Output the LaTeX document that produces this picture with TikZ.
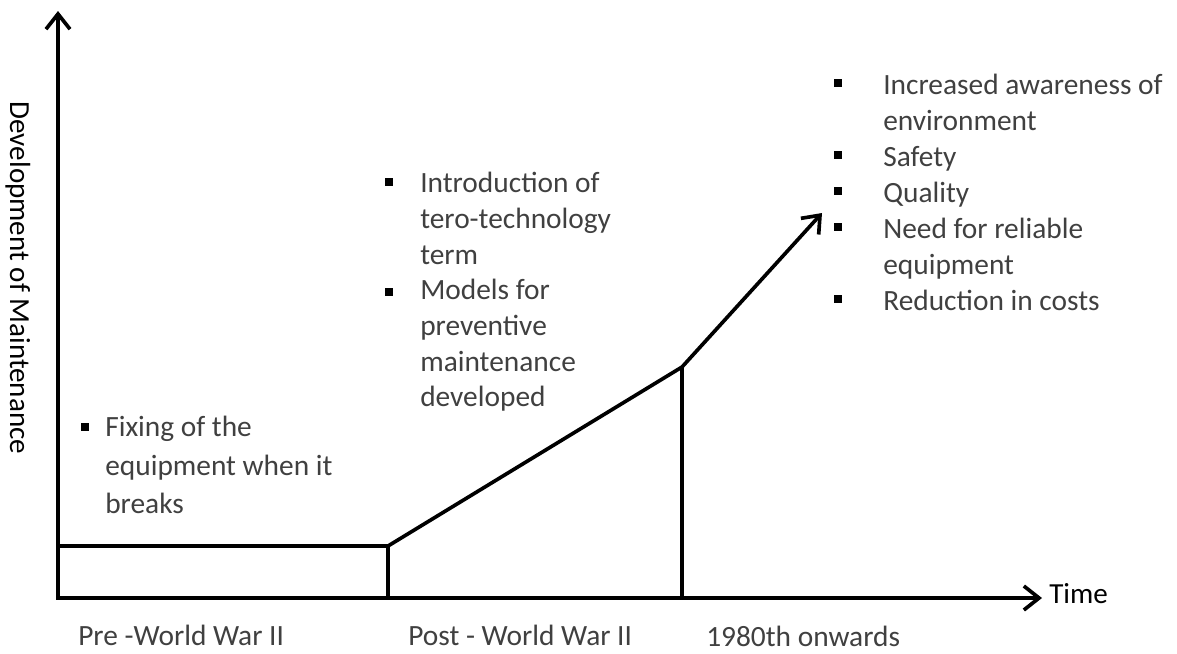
\documentclass[tikz,border=0pt]{standalone}
\usepackage{fontspec}
\setmainfont{Carlito}
\usetikzlibrary{arrows.meta}
\definecolor{textgrey}{RGB}{64,64,64}

\tikzset{
  axisline/.style={line width=2.6pt, -{Straight Barb[length=0.38cm, width=0.6cm]}},
  stepline/.style={line width=2.6pt},
  bulletsq/.style={fill=black, inner sep=0pt, minimum size=5pt},
  itemtext/.style={text=textgrey, anchor=base west, inner sep=0pt, font=\fontsize{20.9}{24}\selectfont},
  axistext/.style={text=black, inner sep=0pt, font=\fontsize{20.7}{24}\selectfont}
}

\begin{document}
\begin{tikzpicture}[x=0.025cm, y=-0.025cm]
\useasboundingbox (0,0) rectangle (1177,653);

% axes
\coordinate (origin) at (58,598);
\coordinate (ytop) at (58,11);
\coordinate (xend) at (1042,598);
\draw[axisline, line cap=rect] (origin) -- (ytop);
\draw[axisline] (origin) -- (xend);
\node[axistext, anchor=base west] (time) at (1049,603) {Time};
\node[axistext, rotate=-90, anchor=center] (dev) at (18,278) {Development of Maintenance};

% trend of maintenance over the three periods
\coordinate (flat) at (58,546);
\coordinate (postwar) at (388,546);
\coordinate (eighties) at (682,367);
\coordinate (today) at (822,213);
\draw[stepline] (flat) -- (postwar);
\draw[axisline] (postwar) -- (eighties) -- (today);
\draw[stepline] (postwar) -- (postwar |- origin);
\draw[stepline] (eighties) -- (eighties |- origin);

% period names
\node[itemtext] (pre) at (78,645) {Pre -World War II};
\node[itemtext] (post) at (408,645) {Post - World War II};
\node[itemtext] (recent) at (706,646) {1980th onwards};

% pre-war
\node[bulletsq] (b1) at (85,427) {};
\node[itemtext] (fix1) at (105,436) {Fixing of the};
\node[itemtext] (fix2) at (105,475) {equipment when it};
\node[itemtext] (fix3) at (105,513) {breaks};

% post-war
\node[bulletsq] (b2) at (389,182) {};
\node[itemtext] (tero1) at (420,192) {Introduction of};
\node[itemtext] (tero2) at (420,228) {tero-technology};
\node[itemtext] (tero3) at (420,264) {term};
\node[bulletsq] (b3) at (389,292) {};
\node[itemtext] (prev1) at (420,299) {Models for};
\node[itemtext] (prev2) at (420,335) {preventive};
\node[itemtext] (prev3) at (420,371) {maintenance};
\node[itemtext] (prev4) at (420,406) {developed};

% from the 1980s
\node[bulletsq] (b4) at (838,83) {};
\node[itemtext] (env1) at (883,94) {Increased awareness of};
\node[itemtext] (env2) at (883,130) {environment};
\node[bulletsq] (b5) at (838,155) {};
\node[itemtext] (safe) at (883,166) {Safety};
\node[bulletsq] (b6) at (838,191) {};
\node[itemtext] (qual) at (883,202) {Quality};
\node[bulletsq] (b7) at (838,227) {};
\node[itemtext] (rel1) at (883,238) {Need for reliable};
\node[itemtext] (rel2) at (883,274) {equipment};
\node[bulletsq] (b8) at (838,299) {};
\node[itemtext] (cost) at (883,310) {Reduction in costs};

\end{tikzpicture}
\end{document}
